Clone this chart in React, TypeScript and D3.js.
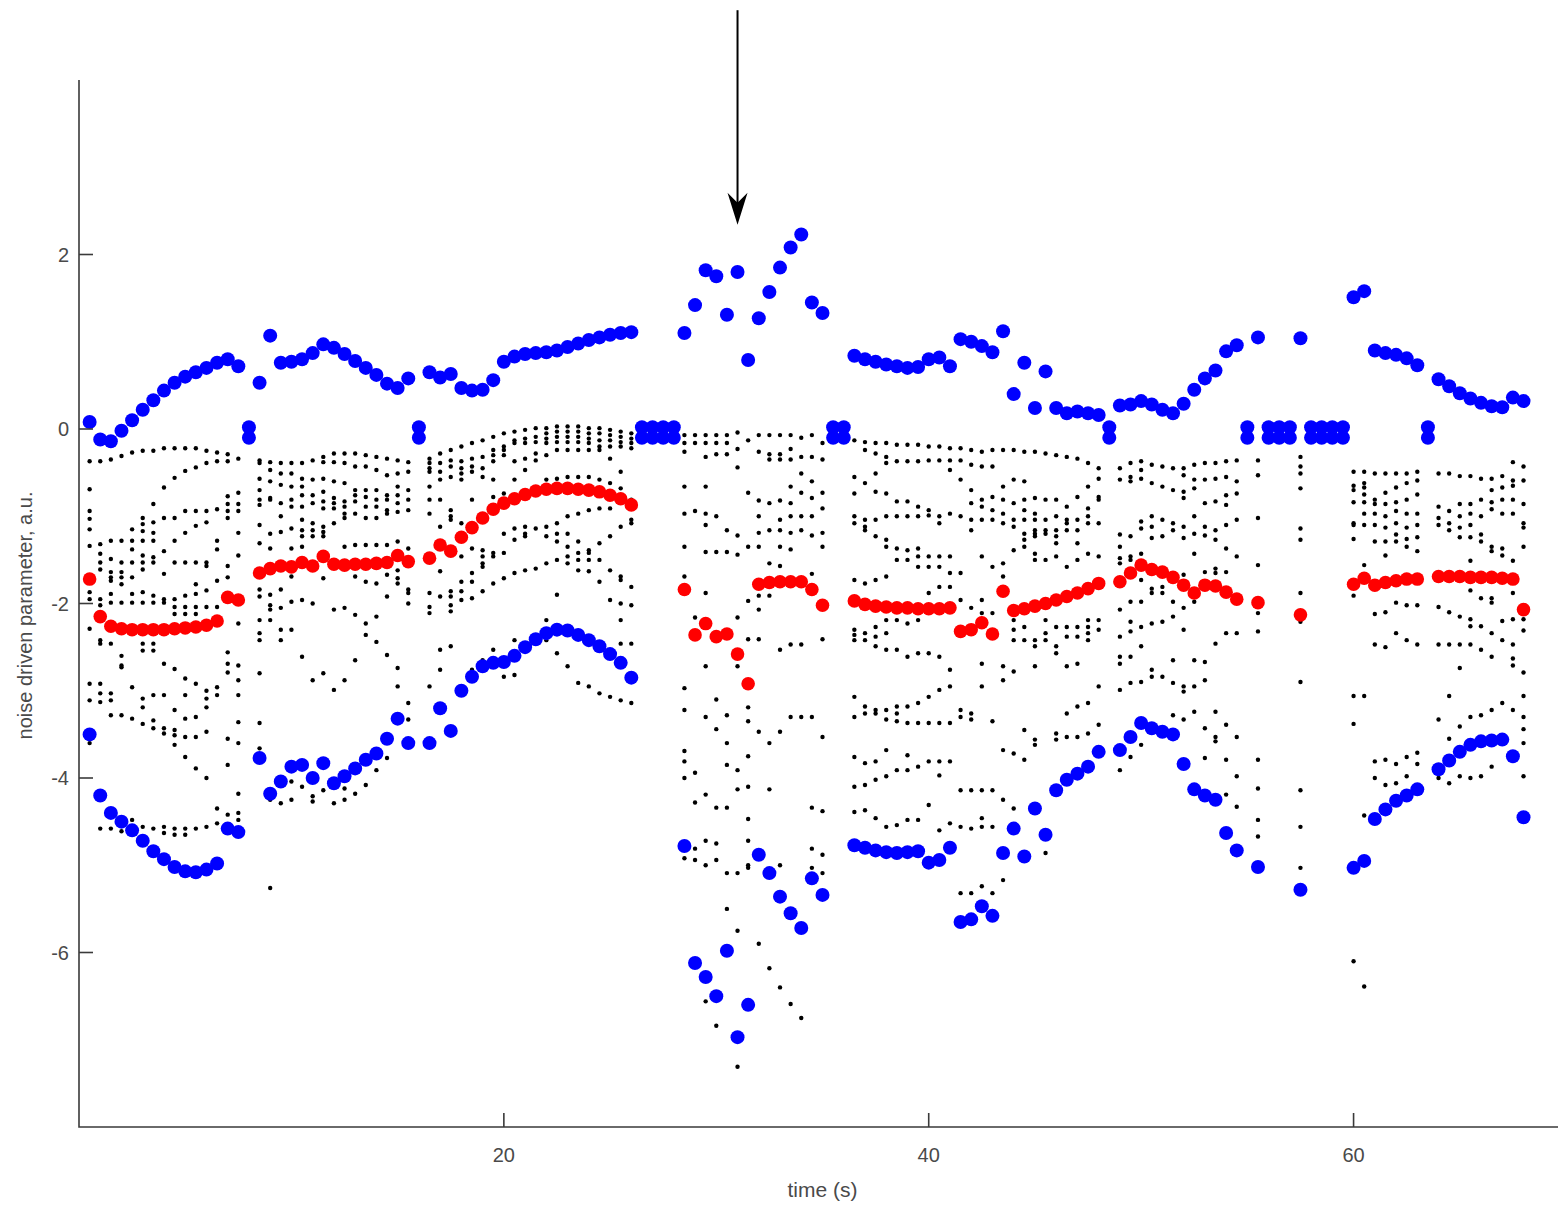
import React from 'react';
import * as d3 from 'd3';

// ---- figure geometry ----
const W = 1558;
const H = 1206;
const plotLeft = 79;
const plotTop = 80;
const plotBottom = 1127;
const plotRight = 1566;

// ---- axes ----
const xDomain: [number, number] = [0, 70];
const yDomain: [number, number] = [-8, 4];
const xTicks = [20, 40, 60];
const yTicks = [-6, -4, -2, 0, 2];
const xLabel = 'time (s)';
const yLabel = 'noise driven parameter, a.u.';

// ---- sampling ----
const sampleStep = 0.5;
const segmentStart = [0.5, 8.5, 16.5, 28.5, 36.5, 49, 55.5, 57.5, 60, 64];

// upper tracked value per segment
const blueUpper: number[][] = [
  [0.08, -0.12, -0.14, -0.02, 0.1, 0.22, 0.33, 0.44, 0.53, 0.6, 0.65, 0.7, 0.76, 0.8, 0.72],
  [0.53, 1.07, 0.76, 0.77, 0.8, 0.87, 0.97, 0.93, 0.86, 0.78, 0.7, 0.62, 0.52, 0.47, 0.58],
  [0.65, 0.59, 0.63, 0.47, 0.44, 0.45, 0.56, 0.77, 0.83, 0.86, 0.87, 0.88, 0.9, 0.94, 0.98, 1.02, 1.05, 1.08, 1.1, 1.11],
  [1.1, 1.42, 1.82, 1.75, 1.31, 1.8, 0.79, 1.27, 1.57, 1.85, 2.08, 2.23, 1.45, 1.33],
  [0.84, 0.8, 0.77, 0.74, 0.72, 0.7, 0.71, 0.8, 0.82, 0.72, 1.03, 1.0, 0.95, 0.88, 1.12, 0.4, 0.76, 0.24, 0.66, 0.24, 0.18, 0.2, 0.18, 0.16],
  [0.27, 0.28, 0.32, 0.28, 0.22, 0.18, 0.29, 0.45, 0.58, 0.67, 0.89, 0.96],
  [1.05],
  [1.04],
  [1.51, 1.58, 0.9, 0.87, 0.85, 0.81, 0.73],
  [0.57, 0.49, 0.41, 0.35, 0.3, 0.26, 0.25, 0.36, 0.32],
];

// lower tracked value per segment
const blueLower: number[][] = [
  [-3.5, -4.2, -4.4, -4.5, -4.6, -4.72, -4.84, -4.93, -5.02, -5.07, -5.08, -5.05, -4.98, -4.58, -4.62],
  [-3.77, -4.18, -4.04, -3.87, -3.85, -4.0, -3.83, -4.06, -3.98, -3.89, -3.79, -3.72, -3.55, -3.32, -3.6],
  [-3.6, -3.2, -3.46, -3.0, -2.84, -2.72, -2.68, -2.67, -2.6, -2.5, -2.41, -2.34, -2.3, -2.31, -2.36, -2.42, -2.49, -2.58, -2.68, -2.85],
  [-4.78, -6.12, -6.28, -6.5, -5.98, -6.97, -6.6, -4.88, -5.09, -5.36, -5.55, -5.72, -5.15, -5.34],
  [-4.77, -4.8, -4.83, -4.85, -4.86, -4.85, -4.84, -4.97, -4.94, -4.8, -5.65, -5.62, -5.47, -5.58, -4.86, -4.58, -4.9, -4.35, -4.65, -4.14, -4.02, -3.95, -3.87, -3.7],
  [-3.68, -3.53, -3.37, -3.43, -3.47, -3.5, -3.84, -4.13, -4.2, -4.25, -4.63, -4.83],
  [-5.02],
  [-5.28],
  [-5.03, -4.95, -4.47, -4.36, -4.26, -4.2, -4.13],
  [-3.9, -3.8, -3.7, -3.62, -3.58, -3.57, -3.56, -3.75, -4.45],
];

// mean value per segment
const redMean: number[][] = [
  [-1.72, -2.15, -2.26, -2.29, -2.3, -2.3, -2.3, -2.3, -2.29, -2.28, -2.27, -2.25, -2.2, -1.93, -1.96],
  [-1.65, -1.6, -1.57, -1.58, -1.53, -1.57, -1.46, -1.55, -1.56, -1.55, -1.55, -1.54, -1.53, -1.45, -1.52],
  [-1.48, -1.33, -1.4, -1.24, -1.13, -1.02, -0.92, -0.85, -0.8, -0.75, -0.71, -0.69, -0.68, -0.68, -0.69, -0.7, -0.72, -0.76, -0.8, -0.87],
  [-1.84, -2.36, -2.23, -2.38, -2.35, -2.58, -2.92, -1.78, -1.76, -1.75, -1.75, -1.75, -1.84, -2.02],
  [-1.97, -2.01, -2.03, -2.04, -2.05, -2.05, -2.06, -2.06, -2.06, -2.05, -2.32, -2.3, -2.22, -2.35, -1.86, -2.08, -2.06, -2.03, -2.0, -1.96, -1.92, -1.88, -1.83, -1.77],
  [-1.75, -1.65, -1.56, -1.61, -1.64, -1.7, -1.79, -1.88, -1.79, -1.8, -1.87, -1.95],
  [-1.99],
  [-2.13],
  [-1.78, -1.71, -1.79, -1.76, -1.74, -1.72, -1.72],
  [-1.69, -1.69, -1.69, -1.7, -1.7, -1.7, -1.71, -1.72, -2.07],
];

// samples without a valid estimate, plotted at zero
const gapTimes = [8, 16, 26.5, 27, 27.5, 28, 35.5, 36, 48.5, 55, 56, 56.5, 57, 58, 58.5, 59, 59.5, 63.5];
const gapLevels = [0.02, -0.1];

// individual realisations at each sample time
const blackDots: [number, number[]][] = [
  [0.5, [-0.37, -0.69, -0.94, -1.03, -1.15, -1.34, -1.87, -1.95, -2.29, -2.92, -3.11, -3.6]],
  [1.0, [-0.37, -1.32, -1.43, -1.53, -1.61, -1.95, -2.02, -2.42, -2.46, -2.92, -3.03, -3.13, -4.25, -4.58]],
  [1.5, [-0.35, -1.28, -1.49, -1.64, -1.7, -1.74, -1.89, -1.99, -2.46, -3.03, -3.11, -3.28, -4.58]],
  [2.0, [-0.31, -1.28, -1.53, -1.64, -1.7, -1.78, -1.99, -2.6, -2.71, -2.73, -3.28, -4.61]],
  [2.5, [-0.27, -1.15, -1.28, -1.38, -1.53, -1.7, -1.89, -1.99, -2.96, -3.32, -4.48, -4.61]],
  [3.0, [-0.25, -1.02, -1.09, -1.17, -1.28, -1.45, -1.53, -1.61, -1.87, -1.99, -2.46, -2.54, -3.09, -3.19, -3.38, -4.56]],
  [3.5, [-0.25, -0.86, -1.07, -1.19, -1.28, -1.47, -1.53, -1.91, -1.99, -2.46, -2.54, -3.05, -3.34, -3.43, -4.58]],
  [4.0, [-0.22, -0.67, -1.02, -1.4, -1.66, -1.95, -1.99, -2.69, -3.05, -3.43, -3.49, -4.56, -4.63]],
  [4.5, [-0.22, -0.56, -1.02, -1.28, -1.53, -1.95, -2.04, -2.12, -2.75, -3.22, -3.45, -3.51, -3.62, -4.58, -4.65]],
  [5.0, [-0.22, -0.48, -0.94, -1.19, -1.53, -1.91, -2.04, -2.12, -2.86, -3.05, -3.32, -3.53, -3.76, -4.58, -4.65]],
  [5.5, [-0.22, -0.44, -0.94, -1.11, -1.53, -1.78, -1.89, -2.04, -2.12, -2.92, -3.3, -3.53, -3.89, -4.58]],
  [6.0, [-0.25, -0.39, -0.94, -1.07, -1.53, -1.57, -1.85, -2.04, -3.0, -3.09, -3.19, -3.47, -4.0, -4.56]],
  [6.5, [-0.27, -0.37, -0.92, -1.28, -1.38, -1.74, -2.04, -2.96, -3.05, -4.35, -4.52]],
  [7.0, [-0.29, -0.37, -0.77, -0.86, -0.94, -1.02, -1.57, -1.7, -2.56, -2.69, -2.79, -3.55, -3.85, -4.42]],
  [7.5, [-0.34, -0.73, -0.86, -0.94, -1.19, -1.45, -2.23, -2.71, -2.88, -3.05, -3.36, -3.6, -4.18, -4.4, -4.48]],
  [8.5, [-0.36, -0.39, -0.57, -0.7, -0.81, -0.87, -1.1, -1.31, -1.84, -1.92, -2.19, -2.34, -2.42, -2.8, -3.37, -3.66]],
  [9.0, [-0.38, -0.47, -0.6, -0.79, -0.81, -1.2, -1.37, -1.9, -2.02, -2.07, -2.19, -4.25, -5.26]],
  [9.5, [-0.39, -0.51, -0.64, -0.85, -1.0, -1.18, -1.84, -2.05, -2.3, -2.42, -4.29]],
  [10.0, [-0.39, -0.51, -0.66, -0.81, -0.89, -1.14, -1.37, -1.69, -1.98, -2.3, -4.04, -4.25]],
  [10.5, [-0.39, -0.57, -0.66, -0.76, -0.89, -1.04, -1.16, -1.23, -1.35, -1.96, -2.61, -4.1]],
  [11.0, [-0.36, -0.58, -0.76, -0.85, -1.08, -1.16, -1.23, -2.0, -2.88, -4.21, -4.27]],
  [11.5, [-0.32, -0.38, -0.57, -0.72, -0.83, -0.91, -1.12, -1.18, -1.23, -1.71, -2.8, -4.14]],
  [12.0, [-0.28, -0.38, -0.6, -0.79, -0.85, -0.91, -1.08, -2.07, -2.99, -4.29]],
  [12.5, [-0.28, -0.39, -0.62, -0.83, -0.89, -0.97, -1.02, -1.35, -2.05, -2.88, -4.12, -4.25]],
  [13.0, [-0.28, -0.43, -0.7, -0.76, -0.83, -0.97, -1.33, -1.69, -2.13, -2.65, -4.18]],
  [13.5, [-0.3, -0.43, -0.7, -0.78, -0.89, -1.02, -1.33, -1.75, -2.23, -2.36, -4.08]],
  [14.0, [-0.32, -0.47, -0.7, -0.81, -0.89, -1.02, -1.33, -1.77, -2.15, -2.44, -3.91]],
  [14.5, [-0.34, -0.53, -0.76, -0.81, -0.93, -0.97, -1.33, -1.67, -1.92, -2.59, -3.77]],
  [15.0, [-0.36, -0.51, -0.66, -0.76, -0.85, -0.95, -1.29, -1.62, -1.71, -1.77, -2.74, -2.95]],
  [15.5, [-0.38, -0.49, -0.7, -0.81, -0.93, -1.37, -1.84, -1.88, -2.0, -3.14, -3.33]],
  [16.5, [-0.34, -0.39, -0.45, -0.49, -0.66, -0.81, -0.97, -1.88, -2.04, -2.11, -2.95]],
  [17.0, [-0.28, -0.39, -0.49, -0.58, -0.81, -1.12, -1.63, -1.92, -2.53, -2.76]],
  [17.5, [-0.24, -0.36, -0.43, -0.55, -0.93, -1.0, -1.04, -1.86, -1.92, -2.02, -2.09, -2.49]],
  [18.0, [-0.2, -0.37, -0.45, -0.51, -0.58, -1.08, -1.46, -1.75, -1.86, -1.96]],
  [18.5, [-0.16, -0.34, -0.43, -0.49, -0.81, -1.37, -1.65, -1.75, -1.94, -2.76]],
  [19.0, [-0.13, -0.32, -0.45, -0.55, -1.39, -1.46, -1.54, -1.58, -1.86, -2.65]],
  [19.5, [-0.09, -0.24, -0.3, -0.37, -0.58, -0.78, -1.42, -1.46, -1.77, -2.53]],
  [20.0, [-0.05, -0.2, -0.24, -0.3, -0.74, -1.2, -1.42, -1.71, -2.84]],
  [20.5, [-0.03, -0.13, -0.16, -0.37, -0.58, -1.14, -1.27, -1.65, -2.42, -2.82]],
  [21.0, [-0.01, -0.11, -0.16, -0.34, -0.47, -1.12, -1.2, -1.23, -1.62, -2.49]],
  [21.5, [0.01, -0.09, -0.15, -0.28, -0.36, -1.14, -1.6, -2.42]],
  [22.0, [0.01, -0.05, -0.11, -0.16, -0.3, -0.58, -1.12, -1.23, -1.54, -2.19, -2.42]],
  [22.5, [0.03, -0.03, -0.09, -0.15, -0.24, -0.57, -1.08, -1.2, -1.29, -1.5, -1.9, -2.57]],
  [23.0, [0.03, -0.03, -0.09, -0.15, -0.24, -0.55, -1.0, -1.2, -1.35, -1.46, -1.54, -2.72]],
  [23.5, [0.03, -0.03, -0.09, -0.15, -0.24, -0.55, -0.97, -1.29, -1.42, -1.5, -1.62, -2.91]],
  [24.0, [0.01, -0.05, -0.11, -0.16, -0.24, -0.55, -0.93, -1.39, -1.42, -1.5, -1.63, -2.95]],
  [24.5, [0.01, -0.05, -0.13, -0.2, -0.24, -0.58, -0.91, -1.31, -1.5, -1.75, -3.03]],
  [25.0, [-0.01, -0.07, -0.13, -0.2, -0.34, -0.62, -0.91, -1.23, -1.62, -1.96, -3.07]],
  [25.5, [-0.03, -0.09, -0.15, -0.2, -0.49, -0.68, -1.12, -1.69, -1.73, -2.0, -2.19, -2.46, -3.11]],
  [26.0, [-0.05, -0.11, -0.16, -0.22, -0.81, -1.04, -1.08, -1.81, -2.02, -2.46, -3.14]],
  [28.5, [-0.07, -0.16, -0.26, -0.66, -0.97, -1.35, -1.69, -2.97, -3.22, -3.69, -3.81, -4.0, -4.92]],
  [29.0, [-0.07, -0.16, -0.94, -2.16, -3.94, -4.28, -4.81, -4.94]],
  [29.5, [-0.07, -0.16, -0.32, -0.66, -0.97, -1.1, -1.41, -1.88, -2.72, -3.3, -4.19, -4.72, -5.0, -6.56]],
  [30.0, [-0.07, -0.16, -0.29, -1.0, -1.41, -3.1, -3.44, -4.34, -4.75, -4.94, -6.84]],
  [30.5, [-0.07, -0.16, -0.29, -1.16, -1.41, -3.28, -3.6, -3.85, -4.34, -5.09, -5.5]],
  [31.0, [-0.04, -0.23, -0.44, -1.22, -1.44, -2.16, -2.72, -3.91, -4.13, -5.09, -5.75, -7.31]],
  [31.5, [-0.13, -0.73, -1.35, -1.97, -2.41, -3.19, -3.35, -3.75, -4.1, -4.47, -4.72, -5.0, -5.03]],
  [32.0, [-0.07, -0.26, -0.82, -1.0, -1.19, -1.35, -1.91, -2.07, -2.41, -3.47, -5.9]],
  [32.5, [-0.07, -0.29, -0.35, -0.85, -1.16, -1.54, -1.91, -3.6, -4.13, -6.18]],
  [33.0, [-0.07, -0.29, -0.35, -0.82, -1.04, -1.16, -1.35, -1.57, -2.53, -3.47, -5.0, -6.4]],
  [33.5, [-0.07, -0.23, -0.35, -0.66, -0.85, -1.0, -1.19, -1.38, -2.47, -3.3, -6.59]],
  [34.0, [-0.1, -0.32, -0.51, -0.73, -1.0, -1.16, -2.47, -3.3, -6.75]],
  [34.5, [-0.07, -0.32, -0.6, -0.79, -1.0, -1.22, -1.66, -3.3, -4.34, -4.81, -5.03]],
  [35.0, [-0.16, -0.35, -0.73, -0.91, -1.19, -1.35, -2.41, -3.53, -4.38, -4.88, -5.09]],
  [36.5, [-0.13, -0.55, -0.74, -1.0, -1.08, -1.73, -2.3, -2.36, -2.42, -3.07, -3.3, -3.76, -4.1, -4.39]],
  [37.0, [-0.15, -0.24, -0.62, -1.04, -1.12, -1.16, -1.77, -2.34, -2.42, -3.18, -3.26, -3.83, -4.08, -4.37]],
  [37.5, [-0.16, -0.28, -0.51, -0.72, -1.04, -1.23, -1.73, -2.27, -2.38, -2.49, -3.22, -3.26, -3.81, -4.02, -4.46]],
  [38.0, [-0.16, -0.32, -0.39, -0.74, -1.0, -1.27, -1.35, -1.69, -2.19, -2.34, -2.53, -3.22, -3.33, -3.68, -3.98, -4.56]],
  [38.5, [-0.18, -0.37, -0.83, -1.0, -1.37, -1.5, -2.19, -2.53, -3.18, -3.26, -3.35, -3.91, -4.54]],
  [39.0, [-0.18, -0.37, -0.83, -1.0, -1.39, -1.5, -2.23, -2.61, -3.18, -3.37, -3.74, -3.91, -4.48]],
  [39.5, [-0.18, -0.37, -0.89, -1.0, -1.37, -1.46, -1.58, -2.19, -2.57, -3.14, -3.37, -3.87, -4.48]],
  [40.0, [-0.2, -0.36, -0.93, -0.99, -1.46, -1.58, -1.88, -2.57, -3.07, -3.37, -3.81, -4.31]],
  [40.5, [-0.2, -0.36, -1.0, -1.08, -1.46, -1.58, -1.81, -2.61, -2.99, -3.37, -3.81, -3.97, -4.6]],
  [41.0, [-0.22, -0.36, -0.47, -0.97, -1.46, -1.65, -1.81, -2.76, -2.95, -3.37, -3.81, -4.52]],
  [41.5, [-0.22, -0.36, -0.58, -1.0, -1.65, -1.96, -3.22, -3.3, -4.14, -4.56, -5.32]],
  [42.0, [-0.24, -0.41, -0.7, -0.85, -1.04, -1.16, -2.05, -3.26, -3.33, -4.14, -4.58, -5.32]],
  [42.5, [-0.26, -0.43, -0.81, -0.89, -1.04, -1.46, -1.96, -2.11, -2.69, -2.95, -4.14, -4.46, -4.56, -5.24]],
  [43.0, [-0.24, -0.43, -0.78, -0.93, -1.04, -1.58, -2.11, -3.35, -4.14, -4.56, -5.32]],
  [43.5, [-0.24, -0.66, -0.81, -0.97, -1.08, -1.54, -1.69, -2.72, -2.88, -3.68, -4.25, -5.17]],
  [44.0, [-0.24, -0.58, -0.85, -1.04, -1.12, -1.39, -2.19, -2.3, -2.42, -2.78, -3.72, -4.35]],
  [44.5, [-0.26, -0.6, -0.81, -0.93, -1.04, -1.2, -1.27, -1.35, -2.27, -2.42, -3.45, -3.79]],
  [45.0, [-0.26, -0.79, -0.97, -1.04, -1.16, -1.2, -1.23, -1.43, -1.5, -2.42, -2.49, -2.72, -3.56, -3.62]],
  [45.5, [-0.28, -0.81, -1.04, -1.16, -1.2, -1.5, -2.19, -2.34, -2.42, -4.86]],
  [46.0, [-0.3, -0.81, -1.0, -1.16, -1.23, -1.31, -1.46, -2.27, -2.49, -2.57, -3.49, -3.56]],
  [46.5, [-0.32, -0.89, -1.04, -1.08, -1.16, -1.58, -2.27, -2.38, -2.72, -3.26, -3.53]],
  [47.0, [-0.34, -0.78, -1.04, -1.16, -1.31, -1.5, -2.27, -2.38, -2.69, -3.18, -3.53]],
  [47.5, [-0.39, -0.66, -0.91, -1.0, -1.08, -1.43, -2.19, -2.27, -2.34, -2.42, -3.14, -3.49]],
  [48.0, [-0.45, -0.57, -0.78, -0.81, -1.08, -1.46, -2.19, -2.3, -2.95, -3.39]],
  [49.0, [-0.45, -0.58, -1.21, -1.35, -1.48, -1.54, -2.07, -2.38, -2.61, -2.69, -2.99, -3.91]],
  [49.5, [-0.39, -0.55, -0.6, -1.23, -1.46, -1.5, -1.98, -2.21, -2.32, -2.61, -2.91, -3.76]],
  [50.0, [-0.37, -0.47, -0.57, -1.06, -1.14, -1.43, -1.73, -1.98, -2.27, -2.49, -2.9, -3.62]],
  [50.5, [-0.41, -0.62, -1.0, -1.12, -1.25, -1.83, -1.88, -2.23, -2.76, -2.84]],
  [51.0, [-0.43, -0.66, -1.04, -1.23, -1.81, -1.88, -2.21, -2.84]],
  [51.5, [-0.45, -0.7, -1.08, -1.16, -1.98, -2.15, -2.65, -2.91, -3.28]],
  [52.0, [-0.45, -0.53, -0.72, -0.79, -1.12, -1.25, -1.67, -2.05, -2.3, -2.95, -3.01, -3.33]],
  [52.5, [-0.41, -0.58, -0.68, -1.0, -1.2, -1.43, -1.98, -2.65, -2.95, -3.24]],
  [53.0, [-0.39, -0.58, -0.85, -1.12, -1.22, -1.64, -2.67, -2.88, -3.43, -3.77]],
  [53.5, [-0.39, -0.57, -0.83, -1.16, -1.27, -1.6, -1.65, -2.46, -3.24, -3.53, -3.58]],
  [54.0, [-0.37, -0.55, -0.76, -0.87, -1.1, -1.37, -1.64, -2.34, -3.39, -3.79, -4.19]],
  [54.5, [-0.36, -0.6, -0.74, -1.04, -1.46, -2.34, -3.53, -3.98, -4.33]],
  [55.5, [-0.36, -0.53, -1.02, -1.56, -2.11, -2.32, -3.79, -4.12, -4.48, -4.67]],
  [57.5, [-0.32, -0.43, -0.51, -0.68, -1.14, -1.27, -1.88, -2.21, -2.9, -4.14, -4.56, -5.03]],
  [60.0, [-0.49, -0.65, -0.7, -0.84, -1.08, -1.1, -1.26, -1.91, -3.06, -3.38, -6.1]],
  [60.5, [-0.49, -0.62, -0.67, -0.75, -0.84, -0.97, -1.1, -1.56, -3.06, -4.43, -6.39]],
  [61.0, [-0.51, -0.81, -0.86, -0.97, -1.1, -1.29, -2.12, -2.47, -3.81, -4.0]],
  [61.5, [-0.51, -0.73, -0.86, -1.0, -1.13, -1.29, -1.45, -2.1, -2.5, -3.79, -4.08]],
  [62.0, [-0.51, -0.67, -0.84, -0.94, -1.08, -1.21, -1.29, -1.99, -2.34, -3.84, -4.06]],
  [62.5, [-0.51, -0.62, -0.81, -0.97, -1.13, -1.26, -1.35, -2.02, -2.42, -3.76, -3.98]],
  [63.0, [-0.49, -0.59, -0.75, -0.97, -1.1, -1.24, -1.4, -2.02, -2.47, -3.71, -3.84]],
  [64.0, [-0.51, -0.89, -1.02, -1.1, -2.04, -2.47, -3.33, -4.0]],
  [64.5, [-0.51, -0.94, -1.08, -1.16, -2.1, -2.47, -3.06, -3.55, -4.06]],
  [65.0, [-0.54, -0.86, -1.0, -1.13, -1.24, -2.15, -2.47, -2.74, -3.41, -3.98]],
  [65.5, [-0.54, -0.86, -0.97, -1.1, -1.24, -1.51, -1.85, -2.18, -2.26, -2.47, -3.3, -4.0]],
  [66.0, [-0.57, -0.81, -1.0, -1.21, -1.29, -1.67, -1.94, -2.26, -2.53, -3.28, -3.98]],
  [66.5, [-0.57, -0.7, -0.84, -0.92, -1.35, -1.4, -1.94, -1.99, -2.34, -2.61, -3.22, -3.87]],
  [67.0, [-0.54, -0.67, -0.81, -0.97, -1.37, -1.45, -2.2, -2.42, -3.14]],
  [67.5, [-0.38, -0.59, -0.65, -0.81, -0.97, -1.51, -1.88, -2.18, -2.47, -2.63, -2.71, -3.22]],
  [68.0, [-0.43, -0.59, -0.86, -1.08, -1.13, -1.35, -2.18, -2.31, -2.79, -3.06, -3.3, -3.44, -3.6, -3.98]],
];

// event marker
const arrowTime = 31;
const arrowTop = 4.8;
const arrowTip = 2.34;

type Pt = { t: number; v: number };

function expand(series: number[][]): Pt[] {
  const out: Pt[] = [];
  series.forEach((vals, i) => {
    vals.forEach((v, j) => out.push({ t: segmentStart[i] + j * sampleStep, v }));
  });
  return out;
}

export default function App() {
  const x = d3.scaleLinear().domain(xDomain).range([plotLeft, plotRight]);
  const y = d3.scaleLinear().domain(yDomain).range([plotBottom, plotTop]);

  const black: Pt[] = [];
  blackDots.forEach(([t, vals]) => vals.forEach((v) => black.push({ t, v })));

  const gaps: Pt[] = [];
  gapTimes.forEach((t) => gapLevels.forEach((v) => gaps.push({ t, v })));

  const blue = [...expand(blueUpper), ...expand(blueLower), ...gaps];
  const red = expand(redMean);

  const axisColor = '#3a3a3a';
  const textColor = '#4a4a4a';
  const font = '"Liberation Sans", Arial, Helvetica, sans-serif';
  const tickLen = 14;

  const ax = x(arrowTime);
  const ayTop = y(arrowTop);
  const ayTip = y(arrowTip);
  const headLen = 32;
  const headHalf = 10;

  return (
    <svg
      width={W}
      height={H}
      viewBox={`0 0 ${W} ${H}`}
      style={{ position: 'absolute', left: 0, top: 0, background: '#fff' }}
    >
      <rect x={0} y={0} width={W} height={H} fill="#fff" />

      {/* realisations */}
      <g fill="#000">
        {black.map((d, i) => (
          <circle key={`k${i}`} cx={x(d.t)} cy={y(d.v)} r={2.2} />
        ))}
      </g>

      {/* tracked values */}
      <g fill="#0000ff">
        {blue.map((d, i) => (
          <circle key={`b${i}`} cx={x(d.t)} cy={y(d.v)} r={7} />
        ))}
      </g>

      {/* mean */}
      <g fill="#ff0000">
        {red.map((d, i) => (
          <circle key={`r${i}`} cx={x(d.t)} cy={y(d.v)} r={6.8} />
        ))}
      </g>

      {/* axes */}
      <g stroke={axisColor} strokeWidth={1.6} fill="none">
        <path d={`M${plotLeft},${plotTop}V${plotBottom}H${plotRight}`} />
        {xTicks.map((t) => (
          <line key={`xt${t}`} x1={x(t)} x2={x(t)} y1={plotBottom} y2={plotBottom - tickLen} />
        ))}
        {yTicks.map((t) => (
          <line key={`yt${t}`} x1={plotLeft} x2={plotLeft + tickLen} y1={y(t)} y2={y(t)} />
        ))}
      </g>

      <g fill={textColor} fontFamily={font} fontSize={20}>
        {xTicks.map((t) => (
          <text key={`xl${t}`} x={x(t)} y={plotBottom + 35} textAnchor="middle">
            {t}
          </text>
        ))}
        {yTicks.map((t) => (
          <text key={`yl${t}`} x={plotLeft - 10} y={y(t)} textAnchor="end" dominantBaseline="central">
            {t}
          </text>
        ))}
      </g>

      <text
        x={(plotLeft + plotRight) / 2}
        y={1197}
        textAnchor="middle"
        fontFamily={font}
        fontSize={21}
        fill={textColor}
      >
        {xLabel}
      </text>
      <text
        transform={`translate(25,${(plotTop + plotBottom) / 2 + 12}) rotate(-90)`}
        textAnchor="middle"
        dominantBaseline="central"
        fontFamily={font}
        fontSize={20}
        fill={textColor}
      >
        {yLabel}
      </text>

      {/* event arrow */}
      <g>
        <line x1={ax} x2={ax} y1={ayTop} y2={ayTip - 10} stroke="#000" strokeWidth={2} />
        <path
          d={`M${ax},${ayTip} L${ax - headHalf},${ayTip - headLen} L${ax},${ayTip - headLen + 10} L${ax + headHalf},${ayTip - headLen} Z`}
          fill="#000"
        />
      </g>
    </svg>
  );
}
